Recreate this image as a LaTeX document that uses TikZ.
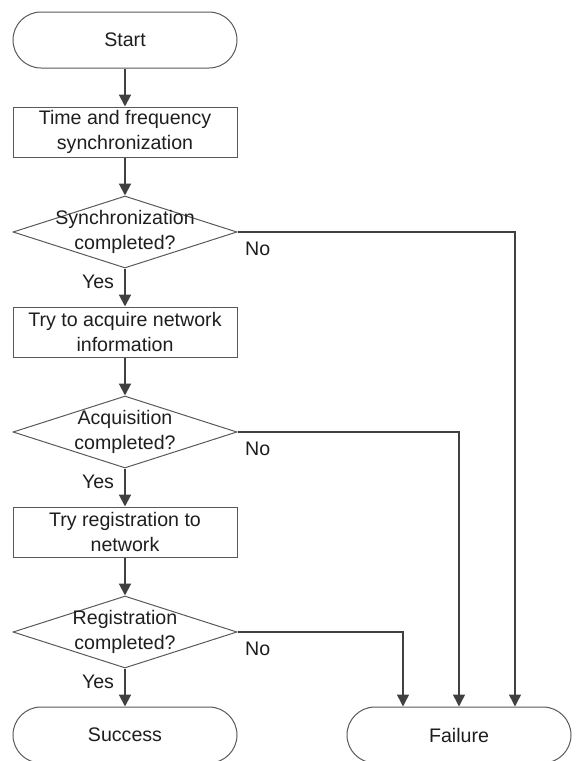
\documentclass[tikz,border=0pt]{standalone}
\usepackage{fontspec}
\setmainfont{Liberation Sans}
\usetikzlibrary{positioning,shapes.geometric,arrows.meta}
\definecolor{FlowLine}{HTML}{404040}
\definecolor{FlowEdge}{HTML}{595959}
\definecolor{FlowText}{HTML}{1E1E1E}

\begin{document}
\begin{tikzpicture}[
    x=0.5pt, y=0.5pt,
    node distance=19pt,
    every node/.style={font=\fontsize{9.8}{12.2}\selectfont, text=FlowText},
    terminal/.style={rectangle, rounded corners=14pt, draw=FlowEdge, line width=0.5pt,
      minimum width=112pt, minimum height=28pt, inner sep=0pt},
    process/.style={rectangle, draw=FlowEdge, line width=0.5pt,
      minimum width=112pt, minimum height=25pt, inner sep=0pt, align=center},
    decision/.style={diamond, draw=FlowEdge, line width=0.5pt,
      minimum width=112pt, minimum height=36pt, inner sep=0pt},
    flow/.style={draw=FlowLine, line width=1pt, -{Triangle[length=6pt,width=6pt]}},
    branch/.style={draw=FlowLine, line width=0.7pt, -{Triangle[length=6pt,width=6pt]}},
    answer/.style={inner sep=0pt}
  ]
    \useasboundingbox (0,0) rectangle (575,-761);

    \node[terminal] (start) at (125,-40) {Start};
    \node[process, below=of start] (timesync) {Time and frequency\\synchronization};
    \node[decision, below=of timesync, label={[align=center]center:{Synchronization\\completed?}}] (syncok) {};
    \node[process, below=of syncok] (getinfo) {Try to acquire network\\information};
    \node[decision, below=of getinfo, label={[align=center]center:{Acquisition\\completed?}}] (acqok) {};
    \node[process, below=of acqok] (register) {Try registration to\\network};
    \node[decision, below=of register, label={[align=center]center:{Registration\\completed?}}] (regok) {};
    \node[terminal, below=of regok] (success) {Success};
    \node[terminal, right=54.5pt of success] (failure) {Failure};

    \draw[flow] (start) -- (timesync);
    \draw[flow] (timesync) -- (syncok);
    \draw[flow] (syncok) -- node[answer, pos=0.36, left=5pt] (syncyes) {Yes} (getinfo);
    \draw[flow] (getinfo) -- (acqok);
    \draw[flow] (acqok) -- node[answer, pos=0.36, left=5pt] (acqyes) {Yes} (register);
    \draw[flow] (register) -- (regok);
    \draw[flow] (regok) -- node[answer, pos=0.36, left=5pt] (regyes) {Yes} (success);

    \draw[branch] (syncok.east) node[answer, anchor=west, xshift=3.5pt, yshift=-8.5pt] (syncno) {No}
      -| ([xshift=28pt]failure.north);
    \draw[branch] (acqok.east) node[answer, anchor=west, xshift=3.5pt, yshift=-8.5pt] (acqno) {No}
      -| (failure.north);
    \draw[branch] (regok.east) node[answer, anchor=west, xshift=3.5pt, yshift=-8.5pt] (regno) {No}
      -| ([xshift=-28pt]failure.north);
\end{tikzpicture}
\end{document}
